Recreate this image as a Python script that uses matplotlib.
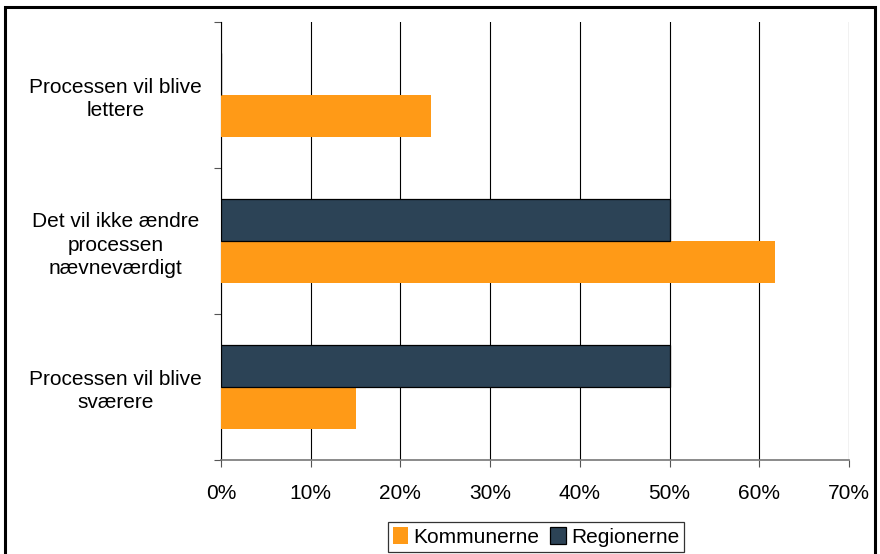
import matplotlib
matplotlib.use("Agg")
import matplotlib.pyplot as plt
from matplotlib.patches import Rectangle
import numpy as np

plt.rcParams['font.family'] = ['Liberation Sans', 'DejaVu Sans']

categories = ["Processen vil blive\nsværere",
              "Det vil ikke ændre\nprocessen\nnævneværdigt",
              "Processen vil blive\nlettere"]
kommunerne = [15.0, 61.8, 23.4]
regionerne = [50.0, 50.0, 0.0]
x_ticks = [0, 10, 20, 30, 40, 50, 60, 70]

orange = "#FF9A17"
navy = "#2C4356"
FS = 15

fig = plt.figure(figsize=(8.8, 5.54), dpi=100)
ax = fig.add_axes([221/880, 1 - 460/554, (849-221)/880, (460-22)/554])

y = np.arange(len(categories))
h = 0.29
ax.barh(y - h/2, kommunerne, height=h, color=orange, edgecolor="none",
        label="Kommunerne", zorder=3)
ax.barh(y + h/2, regionerne, height=h, color=navy, edgecolor="black",
        linewidth=0.9, label="Regionerne", zorder=3)

ax.set_xlim(0, 70)
ax.set_ylim(-0.5, 2.5)
ax.set_xticks(x_ticks)
ax.set_xticklabels([f"{v}%" for v in x_ticks], fontsize=FS)
ax.tick_params(axis='x', length=5, pad=12, color="#555555")
ax.set_yticks([-0.5, 0.5, 1.5, 2.5])
ax.set_yticklabels([])
ax.set_yticks(y, minor=True)
ax.set_yticklabels(categories, minor=True, fontsize=FS, ha='center',
                   multialignment='center', linespacing=1.3)
ax.tick_params(axis='y', which='major', length=5, color="#555555")
ax.tick_params(axis='y', which='minor', length=0, pad=76)

ax.grid(axis='x', color="black", linewidth=0.8, zorder=0)
for s in ['top', 'right']:
    ax.spines[s].set_visible(False)
ax.spines['left'].set_color("black")
ax.spines['bottom'].set_color("#777777")
ax.spines['bottom'].set_linewidth(1.2)

handles, labels = ax.get_legend_handles_labels()
leg = fig.legend(handles, labels, loc='center', bbox_to_anchor=(536/880, 1 - 537/554),
                 ncol=2, fontsize=FS, frameon=True, fancybox=False,
                 edgecolor="black", handlelength=0.75, handleheight=0.9,
                 handletextpad=0.25, columnspacing=0.5, borderpad=0.25,
                 borderaxespad=0)
leg.get_frame().set_linewidth(0.9)

# outer chart frame
fig.patches.append(Rectangle((5/880, -0.05), (875-5)/880, 1.05 - 7/554,
                             transform=fig.transFigure, fill=False,
                             edgecolor="black", linewidth=2.2))

fig.savefig("out.png", dpi=100)
